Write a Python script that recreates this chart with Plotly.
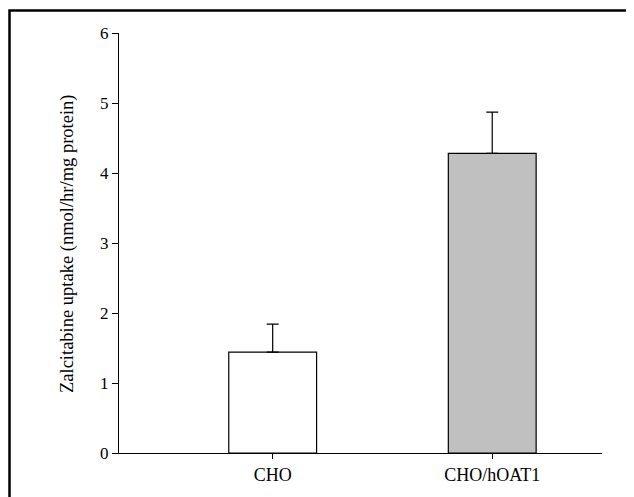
import plotly.graph_objects as go

categories = ["CHO", "CHO/hOAT1"]
uptake = [1.44, 4.28]
sem = [0.40, 0.59]
bar_colors = ["#ffffff", "#c0c0c0"]
y_ticks = [0, 1, 2, 3, 4, 5, 6]

# page has an 8px body margin, so the figure is drawn 8px smaller/shifted
OFF = 8
W, H = 634 - OFF, 497 - OFF
ml, mt = 119 - OFF, 33 - OFF
mr = W - (602 - OFF)
mb = H - (453 - OFF)
pw, ph = W - ml - mr, H - mt - mb

def px_x(p):
    return (p - OFF - ml) / pw

def px_y(p):
    return (H - mb - (p - OFF)) / ph

fig = go.Figure()
fig.add_trace(go.Bar(
    x=list(range(len(categories))),
    y=uptake,
    width=0.4,
    marker=dict(color=bar_colors, line=dict(color="black", width=1.2)),
    error_y=dict(type="data", symmetric=False, array=sem,
                 arrayminus=[0] * len(sem), color="black",
                 thickness=1.2, width=6),
    showlegend=False,
))

font_family = "Liberation Serif"

fig.update_layout(
    width=W, height=H,
    margin=dict(l=ml, r=mr, t=mt, b=mb, pad=0),
    paper_bgcolor="white", plot_bgcolor="white",
    font=dict(family=font_family, color="black"),
    xaxis=dict(range=[-0.7, 1.5], tickvals=list(range(len(categories))),
               ticktext=categories, showline=True, linecolor="black",
               linewidth=1.3, ticks="outside", ticklen=5, tickwidth=1.2,
               tickcolor="black", showgrid=False, zeroline=False,
               tickfont=dict(size=18, family=font_family)),
    yaxis=dict(range=[0, 6], tickvals=y_ticks, showline=True,
               linecolor="black", linewidth=1.3, ticks="outside", ticklen=6,
               tickwidth=1.2, tickcolor="black", showgrid=False,
               zeroline=False, tickfont=dict(size=17, family=font_family)),
    annotations=[dict(
        text="Zalcitabine uptake (nmol/hr/mg protein)",
        x=px_x(67), y=px_y(244), xref="paper", yref="paper",
        xanchor="center", yanchor="middle", textangle=-90,
        showarrow=False, font=dict(size=18.5, family=font_family),
    )],
    shapes=[dict(type="rect", xref="paper", yref="paper",
                 x0=px_x(9.5), x1=px_x(700), y0=px_y(560), y1=px_y(10.5),
                 line=dict(color="black", width=2.5), fillcolor="rgba(0,0,0,0)")],
)

fig.write_html("out.html")
